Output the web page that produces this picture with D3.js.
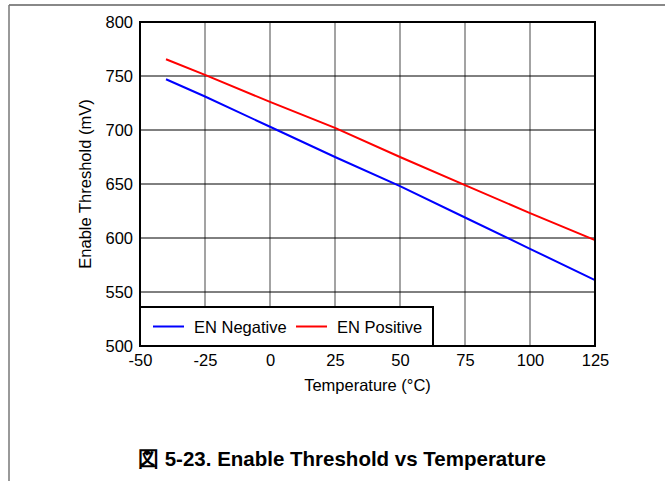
<!DOCTYPE html>
<html>
<head>
<meta charset="utf-8">
<script src="https://cdn.jsdelivr.net/npm/d3@7"></script>
<style>
  body { margin: 0; background: #fff; }
  svg { display: block; font-family: "Liberation Sans", Arial, sans-serif; }
</style>
</head>
<body>
<svg id="chart" width="665" height="481"></svg>
<script>
// temperature points (°C) and thresholds (mV)
var temps = [-40, -25, 0, 25, 50, 75, 100, 125]
  , enNegative = [747, 731, 703, 675, 648, 619, 590, 561]
  , enPositive = [765.5, 751, 726, 702, 675, 649, 623, 598]
  , xTicks = [-50, -25, 0, 25, 50, 75, 100, 125]
  , yTicks = [500, 550, 600, 650, 700, 750, 800]
  , seriesNames = ['EN Negative', 'EN Positive']
  , seriesColors = ['#0000ff', '#ff0000']

var svg = d3.select('#chart')
  , plotL = 140, plotR = 595, plotT = 22, plotB = 346
  , fs = 16.5

var x = d3.scaleLinear().domain([-50, 125]).range([plotL, plotR])
  , y = d3.scaleLinear().domain([500, 800]).range([plotB, plotT])

// page frame
svg.append('line').attr('x1', 9).attr('x2', 665).attr('y1', 5).attr('y2', 5)
  .attr('stroke', '#888').attr('stroke-width', 2)
svg.append('line').attr('x1', 9).attr('x2', 9).attr('y1', 5).attr('y2', 481)
  .attr('stroke', '#777').attr('stroke-width', 1.5)

// grid
svg.append('g').selectAll('line').data(xTicks.slice(1, -1))
  .enter().append('line')
  .attr('x1', function(d) { return x(d) }).attr('x2', function(d) { return x(d) })
  .attr('y1', plotT).attr('y2', plotB)
  .attr('stroke', '#666').attr('stroke-width', 1.2)
svg.append('g').selectAll('line').data(yTicks.slice(1, -1))
  .enter().append('line')
  .attr('x1', plotL).attr('x2', plotR)
  .attr('y1', function(d) { return y(d) }).attr('y2', function(d) { return y(d) })
  .attr('stroke', '#000').attr('stroke-width', 1)

// axes, labels only
svg.append('g').attr('transform', 'translate(' + plotL + ',0)')
  .call(d3.axisLeft(y).tickValues(yTicks).tickSize(0).tickPadding(7))
svg.append('g').attr('transform', 'translate(0,' + plotB + ')')
  .call(d3.axisBottom(x).tickValues(xTicks).tickSize(0).tickPadding(8)
    .tickFormat(function(d) { return String(d) }))
svg.selectAll('.domain').remove()
svg.selectAll('.tick text').attr('font-size', fs).attr('fill', '#000')
  .attr('font-family', '"Liberation Sans", Arial, sans-serif')

// series
var line = d3.line()
  .x(function(d) { return x(d[0]) })
  .y(function(d) { return y(d[1]) })
;[enNegative, enPositive].forEach(function(vals, i) {
  svg.append('path').datum(d3.zip(temps, vals))
    .attr('d', line).attr('fill', 'none')
    .attr('stroke', seriesColors[i]).attr('stroke-width', 2)
})

// plot frame
svg.append('rect').attr('x', plotL).attr('y', plotT)
  .attr('width', plotR - plotL).attr('height', plotB - plotT)
  .attr('fill', 'none').attr('stroke', '#000').attr('stroke-width', 2)

// legend
var lg = svg.append('g')
lg.append('rect').attr('x', plotL).attr('y', 307).attr('width', 293).attr('height', plotB - 307)
  .attr('fill', '#fff').attr('stroke', '#000').attr('stroke-width', 2)
var legendX = [153, 296]
seriesNames.forEach(function(name, i) {
  lg.append('line').attr('x1', legendX[i]).attr('x2', legendX[i] + 31)
    .attr('y1', 326.5).attr('y2', 326.5)
    .attr('stroke', seriesColors[i]).attr('stroke-width', 2)
  lg.append('text').attr('x', legendX[i] + 41).attr('y', 332.5)
    .attr('font-size', fs).text(name)
})

// axis titles
svg.append('text').attr('x', (plotL + plotR) / 2).attr('y', 391)
  .attr('text-anchor', 'middle').attr('font-size', fs).text('Temperature (°C)')
svg.append('text').attr('transform', 'translate(91,' + (plotT + plotB) / 2 + ') rotate(-90)')
  .attr('text-anchor', 'middle').attr('font-size', fs).text('Enable Threshold (mV)')

// caption
svg.append('text').attr('x', 342).attr('y', 466)
  .attr('text-anchor', 'middle').attr('font-size', 20.5).attr('font-weight', 'bold')
  .text('図 5-23. Enable Threshold vs Temperature')
</script>
</body>
</html>
